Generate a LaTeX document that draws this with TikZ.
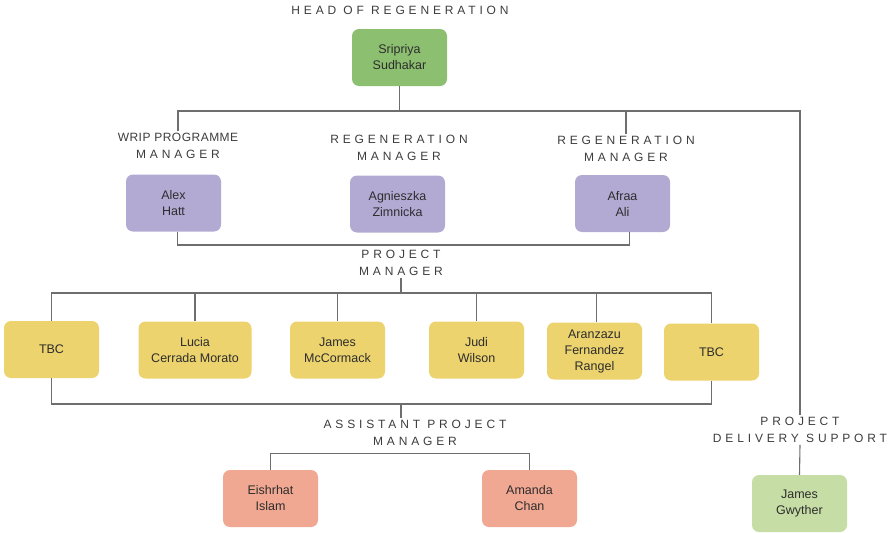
\documentclass[tikz,border=0pt]{standalone}
\usepackage{fontspec}
\setmainfont{Liberation Sans}
\newfontfamily\lblfont[LetterSpace=32]{Liberation Sans}
\newfontfamily\lblfontB[LetterSpace=4]{Liberation Sans}
\definecolor{headgreen}{RGB}{140,191,112}
\definecolor{boxpurple}{RGB}{179,170,212}
\definecolor{boxyellow}{RGB}{236,211,110}
\definecolor{boxsalmon}{RGB}{241,168,146}
\definecolor{boxlgreen}{RGB}{198,221,165}
\definecolor{linegray}{RGB}{110,110,110}
\definecolor{lblgray}{RGB}{60,60,60}
\begin{document}
\begin{tikzpicture}[x=1pt,y=-1pt,
  box/.style={rounded corners=7pt, minimum width=95pt, minimum height=57pt, align=center,
    font=\fontsize{12.5}{16}\selectfont, text={rgb,255:red,45;green,45;blue,45}, inner sep=2pt},
  lbl/.style={align=center, font=\lblfont\fontsize{12}{17}\selectfont, text=lblgray, inner sep=2pt},
  conn/.style={draw=linegray, line width=1.1pt}]
\useasboundingbox (0,0) rectangle (895,533);
% coordinates for buses
\coordinate (topbus) at (0,111);
\coordinate (pbus) at (0,245);
\coordinate (ybus) at (0,293);
\coordinate (bbus) at (0,404);
% labels
\node[lbl] (lhead) at (400,10) {HEAD OF REGENERATION};
\node[lbl] (lwrip) at (178,146) {{\lblfontB WRIP PROGRAMME}\\MANAGER};
\node[lbl] (lreg1) at (399,148) {REGENERATION\\MANAGER};
\node[lbl] (lreg2) at (626,149) {REGENERATION\\MANAGER};
\node[lbl] (lpm) at (401,263) {PROJECT\\MANAGER};
\node[lbl] (lapm) at (415,433) {ASSISTANT PROJECT\\MANAGER};
\node[lbl] (lpds) at (800,430) {PROJECT\\DELIVERY SUPPORT};
% boxes
\node[box, fill=headgreen] (head) at (399.5,57.5) {Sripriya\\Sudhakar};
\node[box, fill=boxpurple] (alex) at (173.5,203) {Alex\\Hatt};
\node[box, fill=boxpurple] (agn) at (397.5,204) {Agnieszka\\Zimnicka};
\node[box, fill=boxpurple] (afraa) at (622.5,203.5) {Afraa\\Ali};
\node[box, fill=boxyellow] (tbc1) at (51.5,349.5) {TBC};
\node[box, fill=boxyellow, minimum width=113pt] (lucia) at (195,350) {Lucia\\Cerrada Morato};
\node[box, fill=boxyellow] (james) at (337.5,350) {James\\McCormack};
\node[box, fill=boxyellow] (judi) at (476.5,350) {Judi\\Wilson};
\node[box, fill=boxyellow] (aran) at (594.5,351) {Aranzazu\\Fernandez\\Rangel};
\node[box, fill=boxyellow] (tbc2) at (711.5,352) {TBC};
\node[box, fill=boxsalmon] (eish) at (270.5,498.5) {Eishrhat\\Islam};
\node[box, fill=boxsalmon] (amanda) at (529.5,498.5) {Amanda\\Chan};
\node[box, fill=boxlgreen] (gwy) at (799.5,503.5) {James\\Gwyther};
% connectors
\draw[conn] (head.south) -- (head.south |- topbus);
\draw[conn] (lwrip.north) -- (lwrip.north |- topbus) -- (lpds.north |- topbus) -- (lpds.north);
\draw[conn] (lreg2.north) -- (lreg2.north |- topbus);
\draw[conn] ([xshift=4pt]alex.south) -- ([xshift=4pt]alex.south |- pbus) -| ([xshift=7pt]afraa.south);
\draw[conn] (lpm.south) -- (lpm.south |- ybus);
\draw[conn] (tbc1.north) -- (tbc1.north |- ybus) -- (tbc2.north |- ybus) -- (tbc2.north);
\draw[conn] (lucia.north) -- (lucia.north |- ybus);
\draw[conn] (james.north) -- (james.north |- ybus);
\draw[conn] (judi.north) -- (judi.north |- ybus);
\draw[conn] ([xshift=2pt]aran.north) -- ([xshift=2pt]aran.north |- ybus);
\draw[conn] (tbc1.south) -- (tbc1.south |- bbus) -- (tbc2.south |- bbus) -- (tbc2.south);
\draw[conn] (lpm.south |- bbus) -- (lpm.south |- lapm.north);
\draw[conn] (eish.north) -- ++(0,-16) -| (amanda.north);
\draw[conn] (lpds.south) -- (gwy.north);
\end{tikzpicture}
\end{document}
